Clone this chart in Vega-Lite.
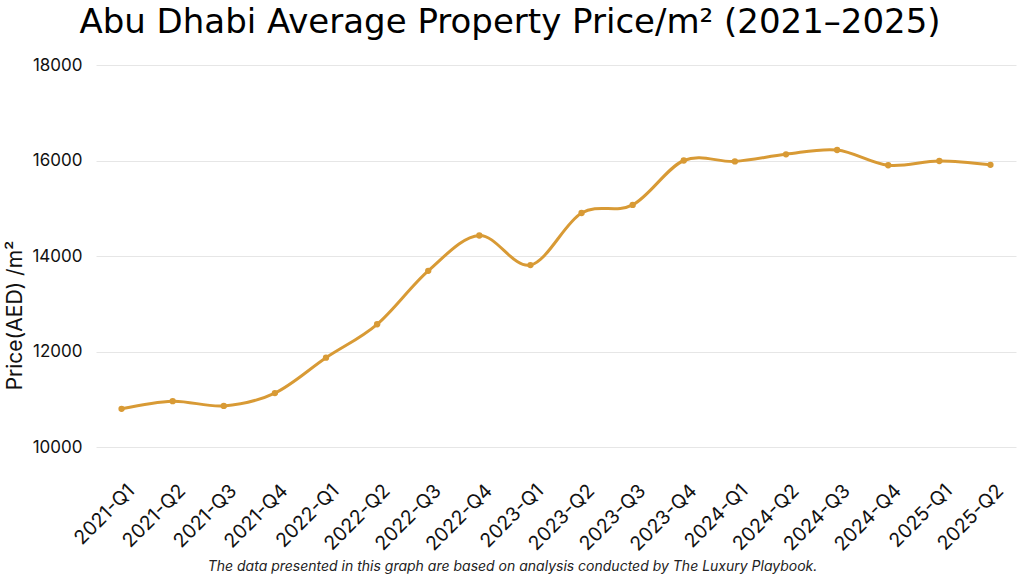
{
  "$schema": "https://vega.github.io/schema/vega-lite/v6.json",
  "width": 920,
  "height": 382,
  "autosize": "none",
  "padding": {"left": 96, "top": 65, "right": 8, "bottom": 129},
  "background": "white",
  "title": {
    "text": "Abu Dhabi Average Property Price/m²  (2021–2025)",
    "font": "DejaVu Sans",
    "fontSize": 34,
    "fontWeight": "normal",
    "color": "#000000",
    "anchor": "middle",
    "dx": -46,
    "offset": 16
  },
  "data": {
    "values": [
      {"quarter": "2021-Q1", "price": 10800},
      {"quarter": "2021-Q2", "price": 10960},
      {"quarter": "2021-Q3", "price": 10860},
      {"quarter": "2021-Q4", "price": 11130},
      {"quarter": "2022-Q1", "price": 11870},
      {"quarter": "2022-Q2", "price": 12570},
      {"quarter": "2022-Q3", "price": 13690},
      {"quarter": "2022-Q4", "price": 14430},
      {"quarter": "2023-Q1", "price": 13810},
      {"quarter": "2023-Q2", "price": 14900},
      {"quarter": "2023-Q3", "price": 15070},
      {"quarter": "2023-Q4", "price": 16000},
      {"quarter": "2024-Q1", "price": 15980},
      {"quarter": "2024-Q2", "price": 16130},
      {"quarter": "2024-Q3", "price": 16220},
      {"quarter": "2024-Q4", "price": 15900},
      {"quarter": "2025-Q1", "price": 15990},
      {"quarter": "2025-Q2", "price": 15910}
    ]
  },
  "encoding": {
    "x": {
      "field": "quarter",
      "type": "ordinal",
      "sort": null,
      "scale": {"type": "point", "padding": 0.5},
      "axis": {
        "title": "The data presented in this graph are based on analysis conducted by The Luxury Playbook.",
        "titleFont": "Inter",
        "titleFontStyle": "italic",
        "titleFontWeight": "normal",
        "titleFontSize": 14,
        "titleColor": "#222222",
        "titleAnchor": "start",
        "titleAlign": "center",
        "titleX": 416,
        "titlePadding": 5,
        "labelAngle": -45,
        "labelFont": "Inter",
        "labelFontSize": 19.5,
        "labelColor": "#111111",
        "labelPadding": 34,
        "labelOffset": 3,
        "domain": false,
        "ticks": false,
        "grid": false
      }
    },
    "y": {
      "field": "price",
      "type": "quantitative",
      "scale": {"domain": [10000, 18000], "nice": false, "zero": false},
      "axis": {
        "title": "Price(AED) /m²",
        "titleFont": "Inter",
        "titleFontSize": 21,
        "titleFontWeight": "normal",
        "titleColor": "#111111",
        "titlePadding": 6,
        "titleAnchor": "start",
        "titleAlign": "center",
        "titleY": 250,
        "values": [10000, 12000, 14000, 16000, 18000],
        "format": "d",
        "labelFont": "Inter",
        "labelFontSize": 17,
        "labelColor": "#111111",
        "labelPadding": 14,
        "domain": false,
        "ticks": false,
        "grid": true,
        "gridColor": "#e6e6e6",
        "gridWidth": 1
      }
    }
  },
  "layer": [
    {
      "mark": {"type": "line", "interpolate": "cardinal", "color": "#D89A35", "strokeWidth": 3}
    },
    {
      "mark": {"type": "point", "filled": true, "color": "#D89A35", "size": 40, "opacity": 1}
    }
  ],
  "config": {"view": {"stroke": null}}
}
